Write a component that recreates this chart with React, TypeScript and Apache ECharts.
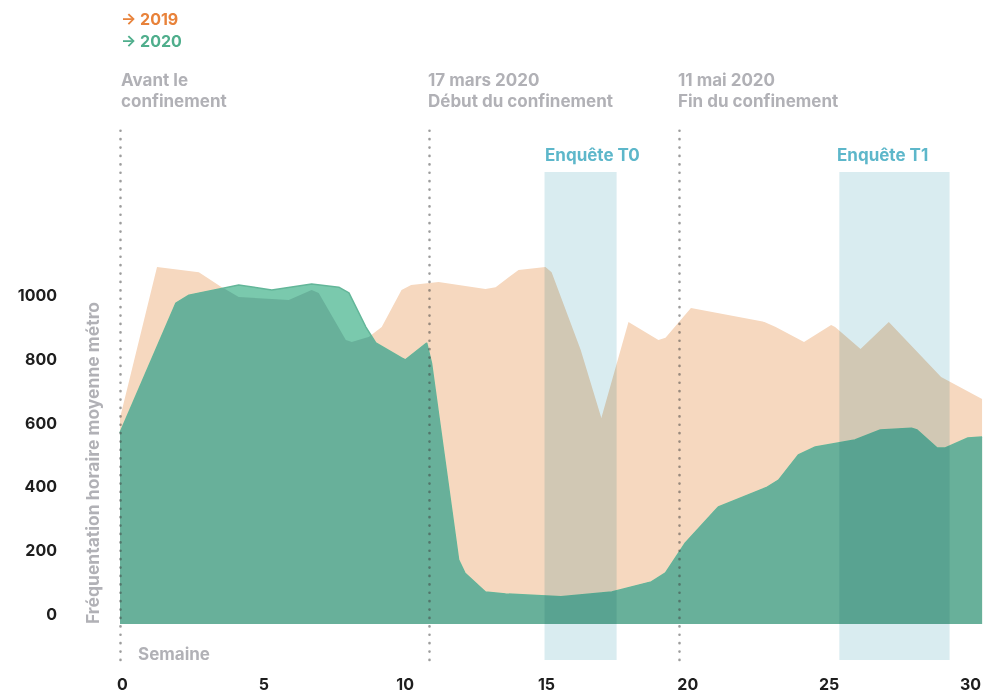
import React, { useEffect, useRef } from "react";
import * as echarts from "echarts";

// ---- Data ----
const weeks2019 = [0, 1.31, 2.79, 3.6, 4.2, 5.97, 6.78, 7.03, 7.99, 8.2, 8.8, 9.26, 9.96, 10.3, 11.27, 12.93, 13.29, 14.1, 15.05, 15.27, 16.3, 17.03, 17.99, 19.05, 19.3, 20.2, 22.8, 23.2, 24.2, 25.16, 25.3, 26.2, 27.2, 29.05, 30.5];
const values2019 = [646, 1119, 1103, 1056, 1025, 1016, 1047, 1038, 890, 884, 900, 931, 1047, 1063, 1072, 1050, 1056, 1110, 1119, 1103, 859, 646, 947, 890, 897, 991, 947, 931, 884, 937, 931, 862, 947, 774, 705];

const weeks2020 = [0, 1.98, 2.44, 4.2, 5.37, 6.78, 7.74, 8.1, 8.7, 9.05, 9.96, 10.1, 10.85, 11.02, 11.98, 12.2, 12.93, 13.64, 15.6, 17.4, 18.8, 19.3, 20.0, 21.17, 22.9, 23.3, 24.0, 24.6, 26.0, 26.9, 28.0, 28.2, 28.9, 29.2, 30.0, 30.5];
const values2020 = [599, 1006, 1031, 1063, 1047, 1066, 1056, 1038, 931, 881, 834, 828, 881, 818, 201, 160, 100, 94, 85, 100, 132, 160, 254, 367, 429, 451, 530, 555, 577, 608, 614, 608, 552, 552, 583, 586];

const eventWeeks = [0, 10.93, 19.8];
const surveyStart = [15.02, 25.45];
const surveyEnd = [17.57, 29.35];
const surveyTop = 1417;
const surveyNames = ["Enquête T0", "Enquête T1"];
const xTicks = [0, 5, 10, 15, 20, 25, 30];
const yTicks = [0, 200, 400, 600, 800, 1000];

const X_MAX = 30.5;
const Y_MIN = -113;
const Y_MAX = 1555;
const FONT = "Inter, 'Liberation Sans', sans-serif";
const GRAY = "#b1b1b6";
const SURVEY_FILL = "#d9ecf0";

function interp(xs: number[], ys: number[], x: number): number {
  if (x <= xs[0]) return ys[0];
  for (let i = 1; i < xs.length; i++) {
    if (x <= xs[i]) {
      const t = (x - xs[i - 1]) / (xs[i] - xs[i - 1]);
      return ys[i - 1] + t * (ys[i] - ys[i - 1]);
    }
  }
  return ys[ys.length - 1];
}

// overlap = min(2019, 2020) on the union of x positions, with crossings added
function buildOverlap(): number[][] {
  const xs = Array.from(new Set([...weeks2019, ...weeks2020])).sort((a, b) => a - b);
  const out: number[][] = [];
  for (let i = 0; i < xs.length; i++) {
    const x = xs[i];
    const a = interp(weeks2019, values2019, x);
    const b = interp(weeks2020, values2020, x);
    if (i > 0) {
      const px = xs[i - 1];
      const pa = interp(weeks2019, values2019, px);
      const pb = interp(weeks2020, values2020, px);
      const d0 = pa - pb;
      const d1 = a - b;
      if (d0 * d1 < 0) {
        const t = d0 / (d0 - d1);
        const cx = px + t * (x - px);
        out.push([cx, interp(weeks2019, values2019, cx)]);
      }
    }
    out.push([x, Math.min(a, b)]);
  }
  return out;
}

export default function App() {
  const ref = useRef<HTMLDivElement>(null);
  useEffect(() => {
    if (!ref.current) return;
    const chart = echarts.init(ref.current, null, { renderer: "svg" });
    const data2019 = weeks2019.map((w, i) => [w, values2019[i]]);
    const data2020 = weeks2020.map((w, i) => [w, values2020[i]]);
    const overlap = buildOverlap();
    const surveyData = surveyStart.map((s, i) => [s, surveyEnd[i], surveyTop]);
    const txt = (text: string, x: number, y: number, fill: string, size: number) => ({
      type: "text", x, y, style: { text, fill, font: `bold ${size}px ${FONT}`, verticalAlign: "middle" },
    });

    const option: any = {
      animation: false,
      grid: { left: 120, right: 0, top: 128, bottom: 33 },
      xAxis: {
        type: "value", min: 0, max: X_MAX, splitNumber: 6,
        axisLine: { show: false }, axisTick: { show: false }, splitLine: { show: false },
        axisLabel: {
          margin: 17, fontSize: 16, lineHeight: 14, fontWeight: "bold", color: "#1e1e1e", fontFamily: FONT,
          padding: [0, 0, 0, 5], showMaxLabel: false,
          formatter: (v: number) => (xTicks.includes(v) ? String(v) : ""),
        },
      },
      yAxis: {
        type: "value", min: Y_MIN, max: Y_MAX, splitNumber: 8,
        axisLine: { show: false }, axisTick: { show: false }, splitLine: { show: false },
        axisLabel: {
          margin: 63, fontSize: 16, fontWeight: "bold", color: "#1e1e1e", fontFamily: FONT,
          verticalAlign: "bottom", lineHeight: 20, showMinLabel: false, showMaxLabel: false,
          formatter: (v: number) => (yTicks.includes(v) ? String(v) : ""),
        },
      },
      series: [
        {
          name: "2019", type: "line", data: data2019,
          symbol: "none", lineStyle: { width: 0 }, areaStyle: { color: "#f6d8bf", opacity: 1, origin: "auto" }, z: 1,
        },
        {
          name: "2020", type: "line", data: data2020,
          symbol: "none", lineStyle: { width: 1.5, color: "#63b699" }, areaStyle: { color: "#7ac9ad", opacity: 1, origin: "auto" }, z: 2,
        },
        {
          name: "overlap", type: "line", data: overlap,
          symbol: "none", lineStyle: { width: 0 }, areaStyle: { color: "#68b09a", opacity: 1, origin: "auto" }, z: 3,
        },
        {
          name: "surveys", type: "custom", data: surveyData, z: 5,
          encode: { x: [0, 1], y: 2 },
          renderItem: (params: any, api: any) => {
            const s = api.coord([api.value(0), api.value(2)]);
            const e = api.coord([api.value(1), Y_MIN]);
            return {
              type: "rect",
              shape: { x: s[0], y: s[1], width: e[0] - s[0], height: e[1] - s[1] },
              style: { fill: SURVEY_FILL },
            };
          },
        },
        {
          name: "events", type: "line", data: [], z: 6,
          markLine: {
            silent: true, symbol: "none", label: { show: false },
            lineStyle: { color: "rgba(60,60,60,0.5)", width: 2.6, type: [0.1, 8.3], cap: "round" },
            data: eventWeeks.map((w) => ({ xAxis: w })),
          },
        },
      ],
      graphic: [
        txt("→ 2019", 121, 19, "#e8823a", 16),
        txt("→ 2020", 121, 41, "#4fae8c", 16),
        txt("Avant le", 121, 80, GRAY, 17),
        txt("confinement", 121, 101, GRAY, 17),
        txt("17 mars 2020", 428, 80, GRAY, 17),
        txt("Début du confinement", 428, 101, GRAY, 17),
        txt("11 mai 2020", 678, 80, GRAY, 17),
        txt("Fin du confinement", 678, 101, GRAY, 17),
        txt(surveyNames[0], 545, 155, "#5db7ca", 17),
        txt(surveyNames[1], 837, 155, "#5db7ca", 17),
        txt("Semaine", 138, 654, GRAY, 17),
        {
          type: "text", x: 92, y: 463, rotation: Math.PI / 2,
          style: { text: "Fréquentation horaire moyenne métro", fill: GRAY, font: `bold 17.5px ${FONT}`, align: "center", verticalAlign: "middle" },
        },
      ],
    };
    chart.setOption(option);
    return () => chart.dispose();
  }, []);
  return (
    <>
      <style>{`path[fill="${SURVEY_FILL}"]{mix-blend-mode:multiply;}`}</style>
      <div ref={ref} style={{ position: "fixed", left: 0, top: 0, width: 984, height: 693, background: "#fff" }} />
    </>
  );
}
